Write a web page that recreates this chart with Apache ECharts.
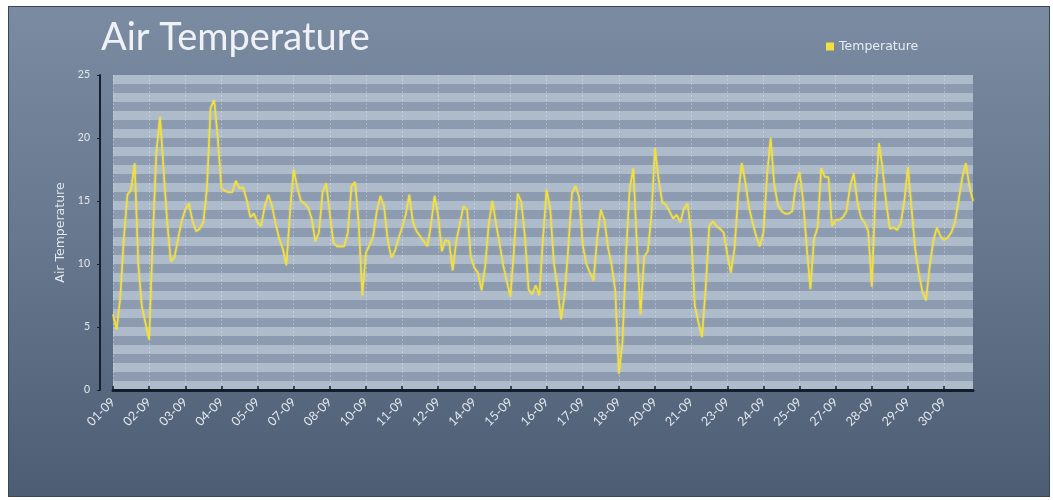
<!DOCTYPE html>
<html>
<head>
<meta charset="utf-8">
<title>Air Temperature</title>
<script src="https://cdn.jsdelivr.net/npm/echarts@6/dist/echarts.min.js"></script>
<style>
  html, body { margin: 0; padding: 0; background: #ffffff; }
  #frame {
    position: absolute; left: 8px; top: 6px; width: 1040px; height: 489px;
    border: 1px solid #3a4656;
    background: linear-gradient(180deg, #7b8ba1 0%, #66768d 50%, #4d5d73 100%);
  }
  #chart { position: absolute; left: 0; top: 0; width: 1053px; height: 500px; }
</style>
</head>
<body>
<div id="frame"></div>
<div id="chart"></div>
<script>
// Date labels shown under the axis ticks
const tickLabels = ['01-09','02-09','03-09','04-09','05-09','07-09','08-09','10-09',
  '11-09','12-09','14-09','15-09','16-09','17-09','18-09','20-09','21-09','23-09',
  '24-09','25-09','27-09','28-09','29-09','30-09'];

// Readings between two labelled ticks
const pointsPerTick = 10;

// Air temperature readings (°C)
const temperature = [
  6.0, 4.8, 7.3, 12.0, 15.5, 15.9, 18.0, 10.0, 6.6, 5.3,
  4.0, 12.0, 18.8, 21.7, 17.5, 13.3, 10.2, 10.5, 12.0, 13.4,
  14.3, 14.8, 13.4, 12.6, 12.8, 13.3, 16.0, 22.4, 23.0, 20.0,
  16.0, 15.8, 15.7, 15.7, 16.6, 16.0, 16.1, 15.1, 13.7, 14.0,
  13.3, 13.0, 14.6, 15.5, 14.6, 13.2, 12.0, 11.2, 9.9, 14.2,
  17.5, 16.1, 15.0, 14.8, 14.5, 13.6, 11.8, 12.5, 15.7, 16.4,
  14.0, 11.7, 11.4, 11.4, 11.4, 12.5, 16.2, 16.5, 13.2, 7.5,
  10.9, 11.5, 12.2, 14.2, 15.4, 14.6, 12.0, 10.5, 11.0, 12.0,
  12.9, 13.9, 15.5, 13.3, 12.6, 12.2, 11.8, 11.4, 13.1, 15.4,
  13.8, 11.0, 11.9, 11.8, 9.5, 11.8, 13.2, 14.6, 14.3, 10.6,
  9.7, 9.3, 7.9, 9.8, 13.2, 15.0, 13.2, 11.6, 9.9, 8.6,
  7.4, 11.3, 15.6, 14.9, 12.2, 8.0, 7.6, 8.3, 7.5, 12.0,
  15.9, 14.4, 10.1, 8.2, 5.6, 7.6, 11.3, 15.6, 16.2, 15.3,
  11.5, 10.0, 9.3, 8.7, 12.1, 14.3, 13.5, 11.3, 9.9, 7.9,
  1.3, 3.8, 10.8, 16.0, 17.6, 11.5, 6.0, 10.6, 11.0, 13.8,
  19.2, 16.7, 14.9, 14.7, 14.2, 13.6, 13.9, 13.3, 14.4, 14.8,
  12.5, 6.7, 5.4, 4.2, 8.0, 13.0, 13.4, 13.0, 12.8, 12.5,
  10.8, 9.3, 11.2, 15.4, 18.0, 16.5, 14.5, 13.3, 12.2, 11.4,
  12.5, 17.0, 20.0, 16.3, 14.7, 14.2, 14.0, 14.0, 14.2, 16.3,
  17.3, 15.0, 11.3, 8.0, 12.0, 12.9, 17.6, 16.9, 16.9, 13.0,
  13.5, 13.5, 13.7, 14.2, 16.2, 17.2, 14.9, 13.7, 13.3, 12.6,
  8.2, 15.5, 19.6, 17.5, 14.8, 12.8, 12.9, 12.7, 13.2, 15.0,
  17.7, 14.4, 11.2, 9.3, 7.8, 7.1, 9.8, 11.8, 12.9, 12.2,
  11.9, 12.1, 12.5, 13.3, 15.0, 16.8, 18.0, 16.2, 15.0
];

// Value axis range
const yMin = 0;
const yMax = 25;
const yStep = 5;

// Each reading's category is the date label of the tick block it belongs to
const categories = temperature.map((_, i) => tickLabels[Math.floor(i / pointsPerTick)]);

const chart = echarts.init(document.getElementById('chart'), null, { renderer: 'canvas' });

chart.setOption({
  animation: false,
  backgroundColor: 'transparent',
  title: {
    text: 'Air Temperature',
    left: 96,
    top: 14,
    textStyle: { color: '#eef2f6', fontSize: 38, fontWeight: 'normal', fontFamily: 'Lato' }
  },
  legend: {
    data: ['Temperature'],
    left: 821,
    top: 35,
    icon: 'rect',
    itemWidth: 8,
    itemHeight: 8,
    itemGap: 6,
    textStyle: { color: '#e8edf2', fontSize: 12.5, fontFamily: 'DejaVu Sans' }
  },
  grid: { left: 113, right: 80, top: 75, bottom: 110, containLabel: false },
  xAxis: {
    type: 'category',
    data: categories,
    boundaryGap: false,
    axisLine: { show: true, lineStyle: { color: '#131d2a', width: 3 } },
    axisTick: { show: true, inside: true, length: 4, interval: pointsPerTick - 1,
                lineStyle: { color: '#131d2a', width: 1.5 } },
    axisLabel: { interval: pointsPerTick - 1, rotate: 45, margin: 10,
                 color: '#e2e8ef', fontSize: 12.5, fontFamily: 'Lato' },
    splitLine: { show: true, interval: pointsPerTick - 1,
                 lineStyle: { color: 'rgba(235,242,250,0.35)', width: 1, type: [2, 2] } }
  },
  yAxis: [
    {
      type: 'value',
      min: yMin,
      max: yMax,
      interval: yStep,
      offset: 13,
      name: 'Air Temperature',
      nameLocation: 'middle',
      nameGap: 31,
      nameTextStyle: { color: '#e2e8ef', fontSize: 12.5, fontFamily: 'DejaVu Sans' },
      axisLine: { show: true, lineStyle: { color: '#17212e', width: 2 } },
      axisTick: { show: true, length: 3, lineStyle: { color: '#17212e' } },
      axisLabel: { color: '#e2e8ef', fontSize: 10.5, fontFamily: 'Lato', margin: 10 },
      splitLine: { show: false }
    },
    {
      // Horizontal banding of the plot area
      type: 'value',
      min: 0,
      max: 35,
      interval: 1,
      axisLine: { show: false },
      axisTick: { show: false },
      axisLabel: { show: false },
      splitLine: { show: false },
      splitArea: { show: true, areaStyle: { color: ['#aebbca', '#8c9bb0'] } }
    }
  ],
  series: [
    {
      name: 'Temperature',
      type: 'line',
      data: temperature,
      yAxisIndex: 0,
      showSymbol: false,
      symbol: 'rect',
      itemStyle: { color: '#f3e03c' },
      lineStyle: { color: '#f3e03c', width: 1.6, shadowBlur: 2, shadowColor: 'rgba(255,236,90,0.6)' },
      z: 5
    }
  ]
});
</script>
</body>
</html>
